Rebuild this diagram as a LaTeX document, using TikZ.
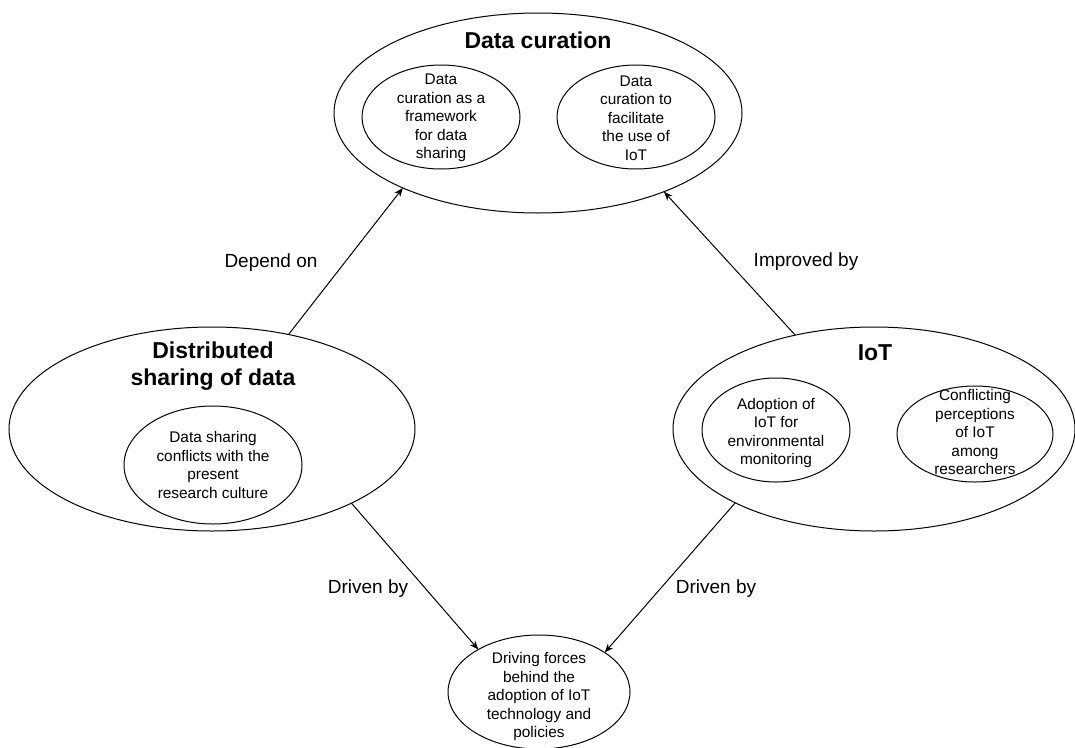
\documentclass[tikz,border=0pt]{standalone}
\usepackage{fontspec}
\setmainfont{Liberation Sans}
\usetikzlibrary{shapes.geometric,arrows.meta}
\begin{document}
\begin{tikzpicture}[x=1pt,y=-1pt,
  oval/.style={draw,ellipse,line width=1pt,inner sep=0pt,outer sep=0pt},
  intext/.style={align=center,inner sep=0pt,font=\fontsize{15.4}{18.5}\selectfont},
  title/.style={align=center,inner sep=0pt,font=\fontsize{23}{27}\selectfont\bfseries},
  lbl/.style={inner sep=0pt,font=\fontsize{19}{22}\selectfont},
  arr/.style={-{Stealth[length=9pt,width=7pt]},line width=1pt}]
\useasboundingbox (0,0) rectangle (1075,747);

% outer ellipses
\node[oval,minimum width=408pt,minimum height=200pt] (cur) at (538,113) {};
\node[oval,minimum width=406pt,minimum height=204pt] (dist) at (212,429) {};
\node[oval,minimum width=402pt,minimum height=204pt] (iot) at (874,429) {};
\node[oval,minimum width=182pt,minimum height=114pt] (drv) at (539,692) {};

% titles
\node[title] (curT) at (538,40) {Data curation};
\node[title] (distT) at (213,366) {Distributed\\sharing of data};
\node[title] (iotT) at (875,353) {IoT};

% inner ellipses
\node[oval,minimum width=158pt,minimum height=104pt] (c1) at (441,117) {};
\node[oval,minimum width=158pt,minimum height=104pt] (c2) at (636,117) {};
\node[oval,minimum width=178pt,minimum height=118pt] (d1) at (213,465) {};
\node[oval,minimum width=148pt,minimum height=104pt] (i1) at (776,430) {};
\node[oval,minimum width=156pt,minimum height=96pt] (i2) at (975,434) {};

% inner texts
\node[intext] (c1T) at (441,118) {Data\\curation as a\\framework\\for data\\sharing};
\node[intext] (c2T) at (636,118) {Data\\curation to\\facilitate\\the use of\\IoT};
\node[intext] (d1T) at (213,465) {Data sharing\\conflicts with the\\present\\research culture};
\node[intext] (i1T) at (776,433) {Adoption of\\IoT for\\environmental\\monitoring};
\node[intext] (i2T) at (975,432) {Conflicting\\perceptions\\of IoT\\among\\researchers};
\node[intext] (drvT) at (539,697) {Driving forces\\behind the\\adoption of IoT\\technology and\\policies};

% connectors
\draw[arr] (dist.51.6) -- (cur.209);
\draw[arr] (iot.130.1) -- (cur.328.3);
\draw[arr] (dist.332.2) -- (drv.145.5);
\draw[arr] (iot.208.3) -- (drv.31.2);

% labels
\node[lbl] (l1) at (271,263) {Depend on};
\node[lbl] (l2) at (806,262) {Improved by};
\node[lbl] (l3) at (368,589) {Driven by};
\node[lbl] (l4) at (716,589) {Driven by};
\end{tikzpicture}
\end{document}
